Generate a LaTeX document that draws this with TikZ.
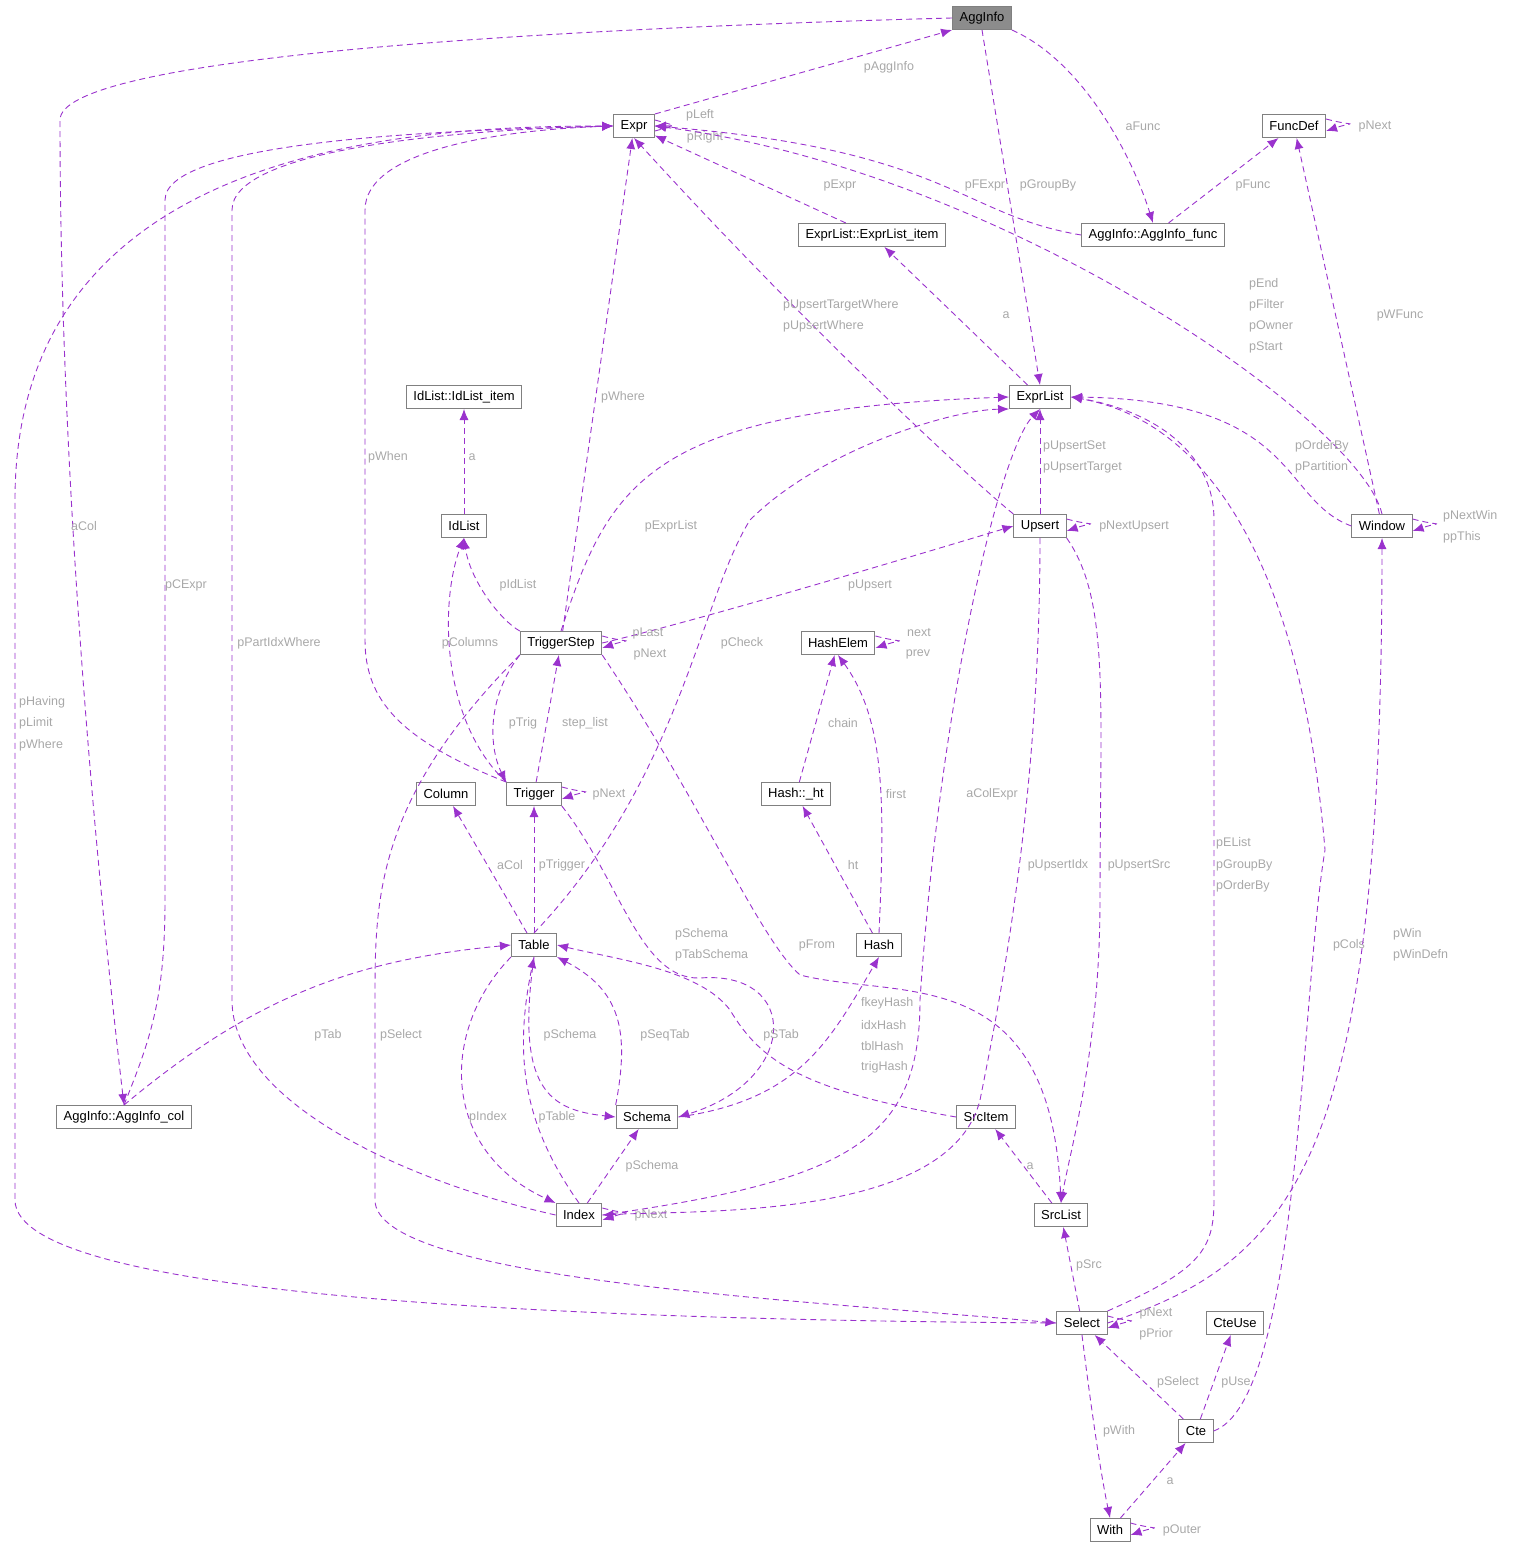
\documentclass[tikz,border=0pt]{standalone}
\usepackage{fontspec}
\setmainfont{Liberation Sans}
\usetikzlibrary{arrows.meta}
\definecolor{edgec}{HTML}{9A32CD}
\definecolor{labc}{HTML}{A8A8A8}
\tikzset{
 box/.style={draw=black!50,line width=1pt,fill=white,minimum height=23pt,inner xsep=7pt,inner ysep=0pt,font=\fontsize{13}{15}\selectfont},
 e/.style={draw=edgec,dashed,dash pattern=on 6pt off 4pt,line width=0.9pt,-{Latex[length=11pt,width=9pt]}},
 lab/.style={text=labc,font=\fontsize{12.5}{14}\selectfont,inner sep=0pt,anchor=center},
 sl/.style={e,-{Latex[length=11pt,width=9pt]}},
}
\newcommand{\selfloop}[1]{\draw[e] ([yshift=7pt]#1.east) .. controls +(30,8) and +(30,-10) .. ([yshift=-5pt]#1.east);}
\begin{document}
\begin{tikzpicture}[x=1pt,y=-1pt]
\useasboundingbox (0,0) rectangle (1512,1549);
\node[box,fill=black!45] (AggInfo) at (982,18) {AggInfo};
\node[box] (Expr) at (634,126) {Expr};
\node[box] (FuncDef) at (1294,126) {FuncDef};
\node[box] (ELi) at (872,235) {ExprList::ExprList\_item};
\node[box] (AIf) at (1153,235) {AggInfo::AggInfo\_func};
\node[box] (ILi) at (464,397) {IdList::IdList\_item};
\node[box] (ExprList) at (1040,397) {ExprList};
\node[box] (IdList) at (464,526) {IdList};
\node[box] (Upsert) at (1040,526) {Upsert};
\node[box] (Window) at (1382,526) {Window};
\node[box] (TS) at (561,643) {TriggerStep};
\node[box] (HashElem) at (838,643) {HashElem};
\node[box] (Column) at (446,794) {Column};
\node[box] (Trigger) at (534,794) {Trigger};
\node[box] (Hht) at (796,794) {Hash::\_ht};
\node[box] (Table) at (534,945) {Table};
\node[box] (Hash) at (879,945) {Hash};
\node[box] (AIc) at (124,1117) {AggInfo::AggInfo\_col};
\node[box] (Schema) at (647,1117) {Schema};
\node[box] (SrcItem) at (986,1117) {SrcItem};
\node[box] (Index) at (579,1215) {Index};
\node[box] (SrcList) at (1061,1215) {SrcList};
\node[box] (Select) at (1082,1323) {Select};
\node[box] (CteUse) at (1235,1323) {CteUse};
\node[box] (Cte) at (1196,1431) {Cte};
\node[box] (With) at (1110,1530) {With};

% edges
\draw[e] (Expr.north east) -- (AggInfo.south west); \node[lab] at (889,67) {pAggInfo};
\draw[e] (AggInfo.west) .. controls (500,30) and (60,60) .. (60,120) .. controls (60,500) and (100,900) .. (AIc.north);
\node[lab] at (84,526) {aCol};
\draw[e] (AggInfo.south east) .. controls (1080,60) and (1130,150) .. (AIf.north); \node[lab] at (1143,126) {aFunc};
\draw[e] (AggInfo.south) -- (ExprList.north); \node[lab] at (1048,185) {pGroupBy};
\draw[e] ([yshift=-5pt]Expr.east) .. controls +(22,-6) and +(22,0) .. (Expr.east); \node[lab] at (700,115) {pLeft};
\draw[e] ([yshift=6pt]Expr.east) .. controls +(22,6) and +(22,0) .. (Expr.east); \node[lab] at (705,137) {pRight};
\draw[e] (ELi) -- (Expr); \node[lab] at (840,185) {pExpr};
\draw[e] (AIf.west) .. controls (960,215) and (950,150) .. (Expr.east); \node[lab] at (985,185) {pFExpr};
\draw[e] (AIf) -- (FuncDef); \node[lab] at (1253,185) {pFunc};
\selfloop{FuncDef} \node[lab] at (1375,126) {pNext};
\draw[e] (ExprList) -- (ELi); \node[lab] at (1006,315) {a};
\draw[e] (Window.north) .. controls (1360,420) and (1000,170) .. (Expr.east);
\node[lab,anchor=west] at (1249,284) {pEnd};\node[lab,anchor=west] at (1249,305) {pFilter};
\node[lab,anchor=west] at (1249,326) {pOwner};\node[lab,anchor=west] at (1249,347) {pStart};
\draw[e] (Window) -- (FuncDef); \node[lab] at (1400,315) {pWFunc};
\draw[e] (Upsert.north west) .. controls (960,470) and (800,320) .. (Expr.south);
\node[lab,anchor=west] at (783,305) {pUpsertTargetWhere};\node[lab,anchor=west] at (783,326) {pUpsertWhere};
\draw[e] (TS) -- (Expr); \node[lab] at (623,397) {pWhere};
\draw[e] (Trigger.north west) .. controls (400,740) and (365,700) .. (365,640) -- (365,210) .. controls (365,150) and (500,130) .. (Expr.west); \node[lab] at (388,457) {pWhen};
\draw[e] (Index.west) .. controls (400,1180) and (232,1100) .. (232,1000) -- (232,210) .. controls (232,150) and (450,130) .. (Expr.west); \node[lab] at (279,643) {pPartIdxWhere};
\draw[e] (AIc.north) .. controls (150,1040) and (165,1000) .. (165,900) -- (165,200) .. controls (165,140) and (450,130) .. (Expr.west); \node[lab] at (186,585) {pCExpr};
\draw[e] (Select.west) .. controls (600,1320) and (15,1300) .. (15,1200) -- (15,500) .. controls (15,150) and (400,126) .. (Expr.west);
\node[lab,anchor=west] at (19,702) {pHaving};\node[lab,anchor=west] at (19,723) {pLimit};\node[lab,anchor=west] at (19,745) {pWhere};
\draw[e] (TS.north) .. controls (610,480) and (650,410) .. (ExprList.west); \node[lab] at (671,526) {pExprList};
\draw[e] (Upsert) -- (ExprList); \node[lab,anchor=west] at (1043,446) {pUpsertSet};\node[lab,anchor=west] at (1043,467) {pUpsertTarget};
\draw[e] (Window.west) .. controls (1280,500) and (1300,400) .. (ExprList.east); \node[lab,anchor=west] at (1295,446) {pOrderBy};\node[lab,anchor=west] at (1295,467) {pPartition};
\draw[e] (IdList) -- (ILi); \node[lab] at (472,457) {a};
\selfloop{Upsert} \node[lab] at (1134,526) {pNextUpsert};
\selfloop{Window} \node[lab,anchor=west] at (1443,516) {pNextWin};\node[lab,anchor=west] at (1443,537) {ppThis};
\draw[e] (TS.north west) .. controls (500,620) and (470,580) .. (IdList.south); \node[lab] at (518,585) {pIdList};
\draw[e] (TS.east) .. controls (700,620) and (900,560) .. (Upsert.west); \node[lab] at (870,585) {pUpsert};
\draw[e] (Table.north) .. controls (680,780) and (700,600) .. (750,520) .. controls (820,450) and (950,410) .. (ExprList.south west); \node[lab] at (742,643) {pCheck};
\draw[e] (Index.east) .. controls (850,1180) and (920,1140) .. (920,1000) .. controls (940,700) and (1000,450) .. (ExprList.south); \node[lab] at (992,794) {aColExpr};
\draw[e] (Select.north east) .. controls (1200,1270) and (1214,1250) .. (1214,1200) -- (1214,520) .. controls (1214,450) and (1150,410) .. (ExprList.east);
\node[lab,anchor=west] at (1216,843) {pEList};\node[lab,anchor=west] at (1216,865) {pGroupBy};\node[lab,anchor=west] at (1216,886) {pOrderBy};
\draw[e] (Cte.east) .. controls (1300,1400) and (1300,1000) .. (1325,850) .. controls (1300,550) and (1200,420) .. (ExprList.east); \node[lab] at (1349,945) {pCols};
\selfloop{TS} \node[lab] at (648,633) {pLast};\node[lab] at (650,654) {pNext};
\selfloop{HashElem} \node[lab] at (919,633) {next};\node[lab] at (918,654) {prev};
\draw[e] (Trigger.north west) .. controls (440,720) and (440,600) .. (IdList.south); \node[lab] at (470,643) {pColumns};
\draw[e] (TS.south west) .. controls (485,700) and (490,750) .. (Trigger.north west); \node[lab] at (523,723) {pTrig};
\draw[e] (Trigger) -- (TS); \node[lab] at (585,723) {step\_list};
\selfloop{Trigger} \node[lab] at (609,794) {pNext};
\draw[e] (Hht) -- (HashElem); \node[lab] at (843,723) {chain};
\draw[e] (Hash.north) .. controls (885,800) and (885,720) .. (HashElem.south); \node[lab] at (896,794) {first};
\draw[e] (Hash) -- (Hht); \node[lab] at (853,865) {ht};
\draw[e] (Table) -- (Column); \node[lab] at (510,865) {aCol};
\draw[e] (Table) -- (Trigger); \node[lab] at (562,865) {pTrigger};
\draw[e] (TS.south east) .. controls (700,800) and (760,940) .. (800,975) .. controls (900,1000) and (1050,960) .. (SrcList.north); \node[lab] at (817,945) {pFrom};
\draw[e] (Trigger.south east) .. controls (620,880) and (640,980) .. (700,978) .. controls (800,970) and (800,1080) .. (Schema.east);
\node[lab,anchor=west] at (675,934) {pSchema};\node[lab,anchor=west] at (675,955) {pTabSchema};
\draw[e] (Schema.east) .. controls (800,1100) and (830,1040) .. (Hash.south);
\node[lab,anchor=west] at (861,1003) {fkeyHash};\node[lab,anchor=west] at (861,1025) {idxHash};\node[lab,anchor=west] at (861,1046) {tblHash};\node[lab,anchor=west] at (861,1067) {trigHash};
\draw[e] (TS.south west) .. controls (375,800) and (375,900) .. (375,1000) -- (375,1200) .. controls (375,1280) and (800,1300) .. (Select.west); \node[lab] at (401,1035) {pSelect};
\draw[e] (AIc.north) .. controls (250,1000) and (350,960) .. (Table.west); \node[lab] at (328,1035) {pTab};
\draw[e] (Table.south) .. controls (515,1090) and (550,1110) .. (Schema.west); \node[lab] at (570,1035) {pSchema};
\draw[e] (Schema.north west) .. controls (630,1030) and (620,990) .. (Table.south east); \node[lab] at (665,1035) {pSeqTab};
\draw[e] (SrcItem.west) .. controls (800,1090) and (760,1060) .. (730,1010) .. controls (700,970) and (620,960) .. (Table.east); \node[lab] at (781,1035) {pSTab};
\draw[e] (Table.south west) .. controls (440,1030) and (440,1150) .. (Index.north west); \node[lab] at (488,1117) {pIndex};
\draw[e] (Index.north) .. controls (520,1120) and (515,1050) .. (Table.south); \node[lab] at (557,1117) {pTable};
\draw[e] (Index) -- (Schema); \node[lab] at (652,1166) {pSchema};
\selfloop{Index} \node[lab] at (651,1215) {pNext};
\draw[e] (Upsert.south) .. controls (1040,800) and (1000,1000) .. (980,1100) .. controls (950,1220) and (700,1210) .. (Index.east); \node[lab] at (1058,865) {pUpsertIdx};
\draw[e] (Upsert.south east) .. controls (1110,600) and (1100,700) .. (1100,900) .. controls (1100,1050) and (1070,1150) .. (SrcList.north); \node[lab] at (1139,865) {pUpsertSrc};
\draw[e] (SrcList) -- (SrcItem); \node[lab] at (1030,1166) {a};
\draw[e] (Select) -- (SrcList); \node[lab] at (1089,1265) {pSrc};
\draw[e] (Select.east) .. controls (1300,1260) and (1382,1150) .. (Window.south); \node[lab,anchor=west] at (1393,934) {pWin};\node[lab,anchor=west] at (1393,955) {pWinDefn};
\selfloop{Select} \node[lab] at (1156,1313) {pNext};\node[lab] at (1156,1334) {pPrior};
\draw[e] (Cte) -- (Select); \node[lab] at (1178,1382) {pSelect};
\draw[e] (Cte) -- (CteUse); \node[lab] at (1236,1382) {pUse};
\draw[e] (Select.south) .. controls (1090,1400) and (1100,1470) .. (With.north); \node[lab] at (1119,1431) {pWith};
\draw[e] (With) -- (Cte); \node[lab] at (1170,1481) {a};
\selfloop{With} \node[lab] at (1182,1530) {pOuter};
\end{tikzpicture}
\end{document}
